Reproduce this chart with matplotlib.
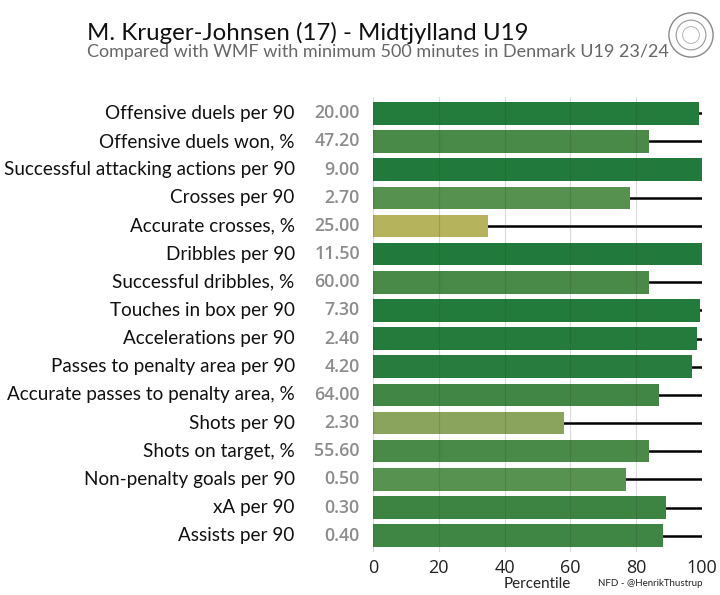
import matplotlib
matplotlib.use("Agg")
import matplotlib.pyplot as plt
from matplotlib.colors import LinearSegmentedColormap
from matplotlib.patches import Circle

metrics = [
    "Offensive duels per 90",
    "Offensive duels won, %",
    "Successful attacking actions per 90",
    "Crosses per 90",
    "Accurate crosses, %",
    "Dribbles per 90",
    "Successful dribbles, %",
    "Touches in box per 90",
    "Accelerations per 90",
    "Passes to penalty area per 90",
    "Accurate passes to penalty area, %",
    "Shots per 90",
    "Shots on target, %",
    "Non-penalty goals per 90",
    "xA per 90",
    "Assists per 90",
]
values = ["20.00", "47.20", "9.00", "2.70", "25.00", "11.50", "60.00", "7.30",
          "2.40", "4.20", "64.00", "2.30", "55.60", "0.50", "0.30", "0.40"]
percentiles = [99, 84, 100, 78, 35, 100, 84, 99.5, 98.5, 97, 87, 58, 84, 77, 89, 88]
xticks = [0, 20, 40, 60, 80, 100]

cmap = LinearSegmentedColormap.from_list(
    "pct",
    [(0.0, "#c9b85e"), (0.35, "#b5b35c"), (0.58, "#8aa45e"), (0.78, "#569150"),
     (0.84, "#4a8a48"), (0.89, "#3d8443"), (1.0, "#217a3b")])

fig = plt.figure(figsize=(7.2, 5.95), dpi=100)
ax = fig.add_axes([373 / 720, 1 - 552 / 595, 329 / 720, (552 - 97) / 595])

n = len(metrics)
ys = list(range(n))
for y in ys:
    ax.plot([0, 100], [y, y], color="black", lw=1.8, zorder=1, solid_capstyle="butt")
ax.barh(ys, percentiles, height=0.8, color=[cmap(p / 100) for p in percentiles], zorder=2)
for x in xticks:
    ax.axvline(x, color="#333333", lw=0.8, alpha=0.18, zorder=3)

ax.set_xlim(0, 100)
ax.set_ylim(n - 0.42, -0.58)
ax.set_xticks(xticks)
ax.set_xticklabels([str(t) for t in xticks], fontsize=13, color="#222222", family="Open Sans")
ax.set_yticks([])
ax.tick_params(axis="x", length=0, pad=5)
for s in ax.spines.values():
    s.set_visible(False)

trans = ax.get_yaxis_transform()
for y, lab, val in zip(ys, metrics, values):
    ax.text(-0.238, y, lab, transform=trans, ha="right", va="center",
            fontsize=13.6, color="#111111", family="Lato")
    ax.text(-0.04, y, val, transform=trans, ha="right", va="center",
            fontsize=12.8, color="#8c8c8c", family="Open Sans", fontweight="semibold")

fig.text(537 / 720, 1 - 584 / 595, "Percentile", ha="center", va="center",
         fontsize=11, color="#222222", family="Lato")
fig.text(702 / 720, 1 - 584 / 595, "NFD - @HenrikThustrup", ha="right", va="center",
         fontsize=7, color="#222222", family="Lato")

fig.text(87 / 720, 1 - 33 / 595, "M. Kruger-Johnsen (17) - Midtjylland U19", ha="left",
         va="center", fontsize=17.3, color="#111111", family="Lato")
fig.text(87 / 720, 1 - 52 / 595, "Compared with WMF with minimum 500 minutes in Denmark U19 23/24",
         ha="left", va="center", fontsize=13, color="#666666", family="Lato")

# logo approximation
cx, cy = 691 / 720, 1 - 35 / 595
lax = fig.add_axes([cx - 24 / 720, cy - 24 / 595, 48 / 720, 48 / 595])
lax.set_xlim(-1, 1); lax.set_ylim(-1, 1); lax.set_aspect("equal"); lax.axis("off")
lax.add_patch(Circle((0, 0), 0.92, fill=False, ec="#888888", lw=1.0))
lax.add_patch(Circle((0, 0), 0.62, fill=False, ec="#999999", lw=0.8))
lax.add_patch(Circle((0, 0), 0.35, fill=False, ec="#aaaaaa", lw=0.6))

fig.savefig("out.png", dpi=100, facecolor="white")
